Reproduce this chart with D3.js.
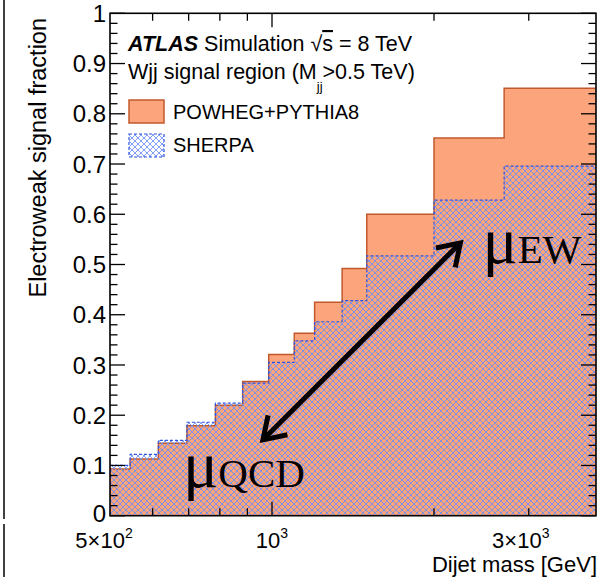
<!DOCTYPE html>
<html><head><meta charset="utf-8">
<script src="https://cdn.jsdelivr.net/npm/d3@7"></script>
<style>body{margin:0;background:#fff}svg{display:block}</style>
</head><body><svg id="c" width="602" height="577"></svg>
<script>
// ---- data ----
const binEdges = [500, 545, 615, 695, 785, 882, 986, 1100, 1200, 1350, 1500, 2000, 2700, 4000];
const powhegValues = [0.093, 0.113, 0.144, 0.179, 0.220, 0.267, 0.321, 0.363, 0.425, 0.492, 0.600, 0.752, 0.851];
const sherpaValues = [0.100, 0.122, 0.150, 0.186, 0.224, 0.264, 0.305, 0.348, 0.386, 0.428, 0.517, 0.628, 0.696];
const yMajorTicks = [0, 0.1, 0.2, 0.3, 0.4, 0.5, 0.6, 0.7, 0.8, 0.9, 1];
const yTickLabels = ["0", "0.1", "0.2", "0.3", "0.4", "0.5", "0.6", "0.7", "0.8", "0.9", "1"];
const xMajorTicks = [1000];
const xMinorTicks = [600, 700, 800, 900, 2000, 3000];
const xLabelValues = [500, 1000, 3000];
const xLabelMantissa = ["5×10", "10", "3×10"];
const xLabelExponent = ["2", "3", "3"];
const legendLabels = ["POWHEG+PYTHIA8", "SHERPA"];
// annotation anchors in data coordinates (mass, fraction)
const arrowFrom = [962, 0.151];
const arrowTo = [2239, 0.543];
const muEWPos = [2460, 0.503];
const muQCDPos = [683, 0.057];

// ---- layout ----
const L = 110, R = 596, T = 13.3, B = 515.7;
const svg = d3.select("#c");
const x = d3.scaleLog().domain([500, 4000]).range([L, R]);
const y = d3.scaleLinear().domain([0, 1]).range([B, T]);
const sans = "'Liberation Sans', Arial, Helvetica, sans-serif";
const serif = "'Liberation Serif', 'Times New Roman', serif";

const ORANGE = "#fca57c", ORANGE_LINE = "#c2592d", BLUE = "#6c8ff4", BLUE_LINE = "#2f55e0";

// patterns
const defs = svg.append("defs");
const hp = defs.append("pattern").attr("id", "hatch").attr("patternUnits", "userSpaceOnUse")
  .attr("width", 6).attr("height", 6);
hp.append("path").attr("d", "M0,0L6,6M0,6L6,0M-1,1L1,-1M5,7L7,5M-1,5L1,7M5,-1L7,1")
  .attr("stroke", BLUE).attr("stroke-width", 0.85).attr("fill", "none");
defs.append("clipPath").attr("id", "frame").append("rect")
  .attr("x", L).attr("y", T).attr("width", R - L).attr("height", B - T);

// neighbour panel edge on the far left
svg.append("line").attr("x1", 4).attr("x2", 4).attr("y1", 0).attr("y2", 519).attr("stroke", "#000").attr("stroke-width", 1.5);
svg.append("line").attr("x1", 4).attr("x2", 4).attr("y1", 524).attr("y2", 577).attr("stroke", "#000").attr("stroke-width", 1.5);

const pts = vals => vals.map((v, i) => [binEdges[i], v]).concat([[binEdges[binEdges.length - 1], vals[vals.length - 1]]]);
const area = d3.area().curve(d3.curveStepAfter).x(d => x(d[0])).y0(y(0)).y1(d => y(d[1]));
const line = d3.line().curve(d3.curveStepAfter).x(d => x(d[0])).y(d => y(d[1]));

const g = svg.append("g").attr("clip-path", "url(#frame)");
g.append("path").attr("d", area(pts(powhegValues))).attr("fill", ORANGE);
g.append("path").attr("d", line(pts(powhegValues))).attr("fill", "none").attr("stroke", ORANGE_LINE).attr("stroke-width", 1.5);
g.append("path").attr("d", area(pts(sherpaValues))).attr("fill", "url(#hatch)");
g.append("path").attr("d", line(pts(sherpaValues))).attr("fill", "none").attr("stroke", BLUE_LINE)
  .attr("stroke-width", 1.2).attr("stroke-dasharray", "3,2");

// frame
svg.append("rect").attr("x", L).attr("y", T).attr("width", R - L).attr("height", B - T)
  .attr("fill", "none").attr("stroke", "#000").attr("stroke-width", 1.6);

// y ticks
const yMinor = d3.range(0, 1.0001, 0.02).filter(v => Math.abs(Math.round(v * 10) - v * 10) > 1e-6);
const ax = svg.append("g").attr("stroke", "#000").attr("stroke-width", 1.3);
yMajorTicks.forEach(v => {
  ax.append("line").attr("x1", L).attr("x2", L + 15).attr("y1", y(v)).attr("y2", y(v));
  ax.append("line").attr("x1", R).attr("x2", R - 15).attr("y1", y(v)).attr("y2", y(v));
});
yMinor.forEach(v => {
  ax.append("line").attr("x1", L).attr("x2", L + 7.5).attr("y1", y(v)).attr("y2", y(v));
  ax.append("line").attr("x1", R).attr("x2", R - 7.5).attr("y1", y(v)).attr("y2", y(v));
});
// x ticks
xMajorTicks.forEach(v => {
  ax.append("line").attr("x1", x(v)).attr("x2", x(v)).attr("y1", B).attr("y2", B - 14);
  ax.append("line").attr("x1", x(v)).attr("x2", x(v)).attr("y1", T).attr("y2", T + 14);
});
xMinorTicks.forEach(v => {
  ax.append("line").attr("x1", x(v)).attr("x2", x(v)).attr("y1", B).attr("y2", B - 7.5);
  ax.append("line").attr("x1", x(v)).attr("x2", x(v)).attr("y1", T).attr("y2", T + 7.5);
});

// y tick labels
svg.append("g").selectAll("text").data(yMajorTicks).join("text")
  .attr("x", L - 4).attr("y", d => y(d)).attr("dy", d => d === 0 ? "0.26em" : "0.36em")
  .attr("text-anchor", "end").attr("font-family", sans).attr("font-size", 24)
  .text((d, i) => yTickLabels[i]);

// x tick labels
const xLabelShift = [-6, 0, -8];
xLabelValues.forEach((v, i) => {
  const t = svg.append("text").attr("x", x(v) + xLabelShift[i]).attr("y", 547.5)
    .attr("text-anchor", "middle").attr("font-family", sans).attr("font-size", 22);
  t.append("tspan").text(xLabelMantissa[i]);
  t.append("tspan").attr("dy", -10).attr("font-size", 14).text(xLabelExponent[i]);
});

// axis titles
svg.append("text").attr("x", 597).attr("y", 572.2).attr("text-anchor", "end")
  .attr("font-family", sans).attr("font-size", 22).text("Dijet mass [GeV]");
svg.append("text").attr("transform", "translate(46,18) rotate(-90)").attr("text-anchor", "end")
  .attr("font-family", sans).attr("font-size", 23.5).text("Electroweak signal fraction");

// ATLAS label
const t1 = svg.append("text").attr("x", 128).attr("y", 51).attr("font-family", sans).attr("font-size", 21.5);
t1.append("tspan").attr("font-weight", "bold").attr("font-style", "italic").text("ATLAS");
t1.append("tspan").text(" Simulation  √");
t1.append("tspan").attr("text-decoration", "overline").text("s");
t1.append("tspan").text(" = 8 TeV");
const t2 = svg.append("text").attr("x", 128).attr("y", 79).attr("font-family", sans).attr("font-size", 21.5);
t2.append("tspan").text("Wjj signal region (M");
t2.append("tspan").attr("dy", 12).attr("font-size", 13).text("jj");
t2.append("tspan").attr("dy", -12).text(">0.5 TeV)");

// legend
const lg = svg.append("g");
lg.append("rect").attr("x", 129).attr("y", 100).attr("width", 35).attr("height", 23)
  .attr("fill", ORANGE).attr("stroke", ORANGE_LINE).attr("stroke-width", 1.5);
lg.append("rect").attr("x", 129).attr("y", 134).attr("width", 35).attr("height", 23)
  .attr("fill", "url(#hatch)").attr("stroke", BLUE_LINE).attr("stroke-width", 1.2).attr("stroke-dasharray", "3,2");
legendLabels.forEach((s, i) => {
  lg.append("text").attr("x", 173).attr("y", 119 + i * 33).attr("font-family", sans).attr("font-size", 20).text(s);
});

// double arrow
const p0 = [x(arrowFrom[0]), y(arrowFrom[1])], p1 = [x(arrowTo[0]), y(arrowTo[1])];
const ang = Math.atan2(p1[1] - p0[1], p1[0] - p0[0]);
const head = (p, a) => {
  const len = 25, spread = 0.58;
  const a1 = a + Math.PI - spread, a2 = a + Math.PI + spread;
  return `M${p[0] + len * Math.cos(a1)},${p[1] + len * Math.sin(a1)}L${p[0]},${p[1]}L${p[0] + len * Math.cos(a2)},${p[1] + len * Math.sin(a2)}`;
};
const arr = svg.append("g").attr("stroke", "#000").attr("stroke-width", 5).attr("fill", "none");
arr.append("line").attr("x1", p0[0]).attr("y1", p0[1]).attr("x2", p1[0]).attr("y2", p1[1]);
arr.append("path").attr("d", head(p1, ang)).attr("stroke-linejoin", "miter");
arr.append("path").attr("d", head(p0, ang + Math.PI)).attr("stroke-linejoin", "miter");

// mu labels
const mu = (pos, sub) => {
  const t = svg.append("text").attr("x", x(pos[0])).attr("y", y(pos[1])).attr("font-family", serif);
  t.append("tspan").attr("font-size", 66).text("μ");
  t.append("tspan").attr("font-size", 41).text(sub);
};
mu(muEWPos, "EW");
mu(muQCDPos, "QCD");
</script></body></html>
